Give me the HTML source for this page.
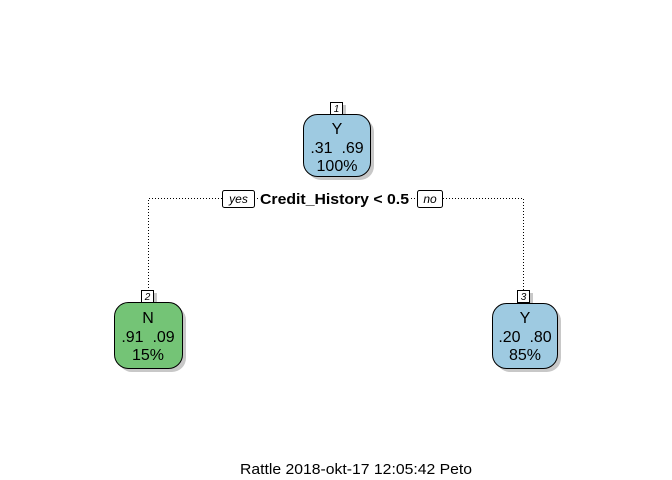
<!DOCTYPE html>
<html><head><style>html,body{margin:0;padding:0;background:#fff}svg{display:block}text{white-space:pre}</style></head><body>
<svg width="672" height="480" xmlns="http://www.w3.org/2000/svg" font-family="Liberation Sans, Arial, sans-serif">
<rect width="672" height="480" fill="#fff"/>
<g stroke="#000" stroke-width="1" stroke-dasharray="1,2" fill="none">
<polyline points="222,198.5 148.5,198.5 148.5,290"/>
<polyline points="443,198.5 523.5,198.5 523.5,290"/>
<line x1="254" y1="198.5" x2="259" y2="198.5"/>
<line x1="411" y1="198.5" x2="417" y2="198.5"/>
</g>
<g fill="#c8c8c8">
<rect x="307" y="118" width="67" height="62" rx="14"/>
<rect x="118" y="306" width="68" height="66" rx="14"/>
<rect x="496" y="307" width="65" height="65" rx="14"/>
<rect x="334" y="105" width="12" height="12"/>
<rect x="145" y="293" width="12" height="12"/>
<rect x="521" y="293" width="12" height="12"/>
</g>
<rect x="303.5" y="114.5" width="67" height="62" rx="14" fill="#9ecae1" stroke="#000"/>
<rect x="114.5" y="302.5" width="68" height="66" rx="14" fill="#74c476" stroke="#000"/>
<rect x="492.5" y="303.5" width="65" height="65" rx="14" fill="#9ecae1" stroke="#000"/>
<rect x="330.5" y="102.5" width="12" height="12" fill="#fff" stroke="#000"/>
<rect x="141.5" y="290.5" width="12" height="12" fill="#fff" stroke="#000"/>
<rect x="517.5" y="290.5" width="12" height="12" fill="#fff" stroke="#000"/>
<g font-size="10" font-style="italic" text-anchor="middle">
<text x="336.5" y="112">1</text><text x="147.5" y="300">2</text><text x="523.5" y="300">3</text>
</g>
<g font-size="16" text-anchor="middle" fill="#000">
<text x="337" y="134">Y</text><text x="337" y="153" xml:space="preserve">.31  .69</text><text x="337" y="171">100%</text>
<text x="148" y="323">N</text><text x="148" y="342" xml:space="preserve">.91  .09</text><text x="148" y="360">15%</text>
<text x="525" y="323">Y</text><text x="525" y="342" xml:space="preserve">.20  .80</text><text x="525" y="360">85%</text>
</g>
<rect x="222.5" y="190.5" width="32" height="17" rx="2" fill="#fff" stroke="#000"/>
<rect x="417.5" y="190.5" width="25" height="17" rx="2" fill="#fff" stroke="#000"/>
<g font-size="12" font-style="italic" text-anchor="middle">
<text x="238.5" y="203">yes</text><text x="430" y="203">no</text>
</g>
<text x="260" y="204" font-size="15" font-weight="bold" textLength="149" lengthAdjust="spacingAndGlyphs">Credit_History &lt; 0.5</text>
<text x="240" y="474" font-size="15" textLength="232" lengthAdjust="spacingAndGlyphs">Rattle 2018-okt-17 12:05:42 Peto</text>
</svg>
</body></html>
